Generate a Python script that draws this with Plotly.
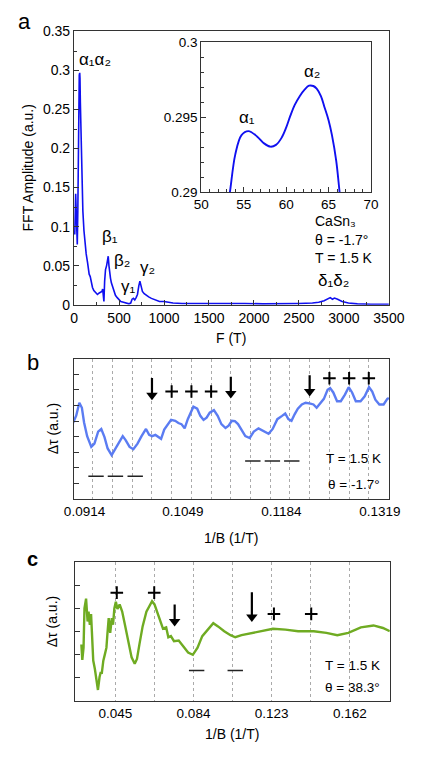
import plotly.graph_objects as go

# ---------------- Panel a: FFT spectrum ----------------
fft_F = [8, 12, 18, 24, 30, 36, 42, 48, 54, 58, 63, 66, 70, 76, 82, 90, 98, 110, 122, 135,
         150, 160, 168, 180, 190, 205, 220, 240, 260, 280, 300, 310, 318, 325, 332, 340, 350,
         362, 372, 380, 388, 395, 405, 415, 425, 440, 460, 480, 500, 520, 550, 580, 610, 630,
         645, 660, 675, 690, 705, 720, 732, 745, 760, 780, 800, 830, 860, 900, 950, 1000, 1050,
         1100, 1200, 1300, 1500, 1700, 1900, 2100, 2300, 2500, 2650, 2720, 2780, 2820, 2848,
         2872, 2895, 2930, 2980, 3050, 3150, 3300, 3500]
fft_amp = [0.09, 0.12, 0.142, 0.12, 0.09, 0.077, 0.12, 0.22, 0.285, 0.294, 0.297, 0.29, 0.26,
           0.22, 0.18, 0.145, 0.12, 0.095, 0.079, 0.065, 0.054, 0.045, 0.039, 0.036, 0.03,
           0.022, 0.018, 0.015, 0.013, 0.015, 0.016, 0.017, 0.02, 0.006, 0.004, 0.03, 0.045,
           0.05, 0.055, 0.062, 0.05, 0.038, 0.034, 0.028, 0.025, 0.018, 0.012, 0.009, 0.006,
           0.004, 0.003, 0.002, 0.001, 0.002, 0.007, 0.008, 0.006, 0.009, 0.013, 0.024, 0.03,
           0.024, 0.017, 0.014, 0.012, 0.01, 0.008, 0.006, 0.004, 0.004, 0.003, 0.002, 0.0015,
           0.0015, 0.002, 0.0015, 0.0015, 0.001, 0.001, 0.0015, 0.002, 0.003, 0.005, 0.008,
           0.009, 0.007, 0.0085, 0.007, 0.004, 0.002, 0.001, 0.0005, 0.0005]

inset_F = [53.2, 53.37, 54.0, 54.74, 55.55, 56.6, 57.4, 58.15, 58.8, 59.44, 60.0, 60.5, 61.0,
           61.6, 62.2, 62.7, 63.2, 63.6, 64.1, 64.5, 65.0, 65.4, 65.9, 66.3, 66.5]
inset_amp = [0.2895, 0.29, 0.2925, 0.2938, 0.29407, 0.2937, 0.29325, 0.29303, 0.29315, 0.2936,
             0.2943, 0.2951, 0.2958, 0.2964, 0.29685, 0.2971, 0.29708, 0.2969, 0.2964, 0.2957,
             0.2948, 0.2938, 0.2921, 0.29, 0.289]

a_xticks = [0, 500, 1000, 1500, 2000, 2500, 3000, 3500]
a_yticks = [0, 0.05, 0.1, 0.15, 0.2, 0.25, 0.3, 0.35]
inset_xticks = [50, 55, 60, 65, 70]
inset_yticks = [0.29, 0.295, 0.3]
inset_yticklabels = ["0.29", "0.295", "0.3"]

# ---------------- Panel b ----------------
b_invB = [0.08982, 0.09026, 0.09069, 0.09104, 0.09134, 0.09176, 0.09233, 0.09276, 0.09327,
          0.09370, 0.09414, 0.09457, 0.09512, 0.09564, 0.09608, 0.09664, 0.09706, 0.09758,
          0.09810, 0.09867, 0.09922, 0.09983, 0.10026, 0.10068, 0.10112, 0.10155, 0.10190,
          0.10233, 0.10275, 0.10327, 0.10384, 0.10427, 0.10469, 0.10513, 0.10556, 0.10599,
          0.10633, 0.10685, 0.10728, 0.10772, 0.10814, 0.10857, 0.10914, 0.10966, 0.11017,
          0.11073, 0.11116, 0.11160, 0.11202, 0.11245, 0.11289, 0.11345, 0.11405, 0.11461,
          0.11526, 0.11590, 0.11664, 0.11720, 0.11784, 0.11849, 0.11892, 0.11935, 0.11978,
          0.12021, 0.12065, 0.12120, 0.12172, 0.12237, 0.12279, 0.12323, 0.12366, 0.12422,
          0.12473, 0.12508, 0.12551, 0.12603, 0.12654, 0.12711, 0.12762, 0.12809, 0.12860,
          0.12925, 0.12982, 0.13041, 0.13085, 0.13128, 0.13183, 0.13241, 0.13292, 0.13313]
b_tau = [4.88, 5.35, 6.18, 5.86, 4.92, 4.04, 3.35, 3.56, 4.33, 4.50, 3.98, 3.25, 2.82, 3.25,
         3.67, 4.04, 3.77, 3.35, 3.20, 3.56, 4.04, 4.50, 4.12, 4.04, 4.12, 3.98, 3.87, 4.46,
         4.75, 5.08, 5.02, 4.88, 4.81, 4.54, 5.13, 5.65, 5.93, 5.80, 5.34, 5.08, 5.23, 5.55,
         5.71, 5.34, 4.81, 4.56, 4.71, 5.02, 5.00, 4.81, 4.50, 4.04, 3.92, 4.33, 4.54, 4.39,
         4.19, 4.50, 5.13, 5.34, 5.49, 5.13, 5.02, 5.44, 5.80, 6.07, 6.18, 6.13, 6.07, 5.86,
         6.13, 6.43, 7.01, 7.12, 6.84, 6.28, 6.28, 6.70, 7.18, 6.84, 6.28, 6.28, 6.59, 7.18,
         6.90, 6.38, 6.07, 6.07, 6.43, 6.49]
b_ticks = [0.0914, 0.1049, 0.1184, 0.1319]
b_ticklabels = ["0.0914", "0.1049", "0.1184", "0.1319"]
b_grid = [0.09254, 0.09524, 0.09795, 0.10065, 0.10335, 0.10606, 0.10876, 0.11146, 0.11417,
          0.11687, 0.11957, 0.12227, 0.12498, 0.12768, 0.13038]
b_arrow_x = [0.10065, 0.11146, 0.12227]
b_arrow_tail = [7.77, 7.85, 7.95]
b_arrow_head = [6.66, 6.77, 6.90]
b_plus_x = [0.10335, 0.10606, 0.10876, 0.12498, 0.12768, 0.13038]
b_plus_y = [6.9, 6.9, 6.9, 7.75, 7.75, 7.75]
b_minus_x = [0.09298, 0.09564, 0.09835, 0.11448, 0.11716, 0.11982]
b_minus_y = [1.47, 1.47, 1.47, 2.45, 2.45, 2.45]

# ---------------- Panel c ----------------
c_invB = [0.02808, 0.02855, 0.02917, 0.02963, 0.03043, 0.03119, 0.03166, 0.03231, 0.03292,
          0.03353, 0.03400, 0.03480, 0.03560, 0.03635, 0.03715, 0.03776, 0.03823, 0.03903,
          0.03983, 0.04058, 0.04105, 0.04171, 0.04246, 0.04326, 0.04387, 0.04453, 0.04528,
          0.04608, 0.04716, 0.04843, 0.04998, 0.05158, 0.05313, 0.05468, 0.05581, 0.05703,
          0.05863, 0.06051, 0.06206, 0.06333, 0.06455, 0.06596, 0.06723, 0.06878, 0.07037,
          0.07145, 0.07272, 0.07427, 0.07662, 0.07897, 0.08132, 0.08367, 0.08602, 0.08837,
          0.09152, 0.09387, 0.09622, 0.09932, 0.10247, 0.10482, 0.10796, 0.11576, 0.12361,
          0.12986, 0.13616, 0.14396, 0.15025, 0.15570, 0.16120, 0.16745, 0.17375, 0.17845,
          0.18188]
c_tau = [2.44, 1.77, 2.30, 4.00, 4.42, 3.43, 3.86, 3.29, 3.75, 2.87, 1.74, 1.39, 0.96, 0.47,
         1.03, 1.25, 1.17, 1.74, 2.02, 2.30, 2.87, 3.58, 2.94, 3.58, 3.29, 4.00, 4.28, 3.97,
         4.17, 3.86, 3.22, 2.58, 1.88, 1.60, 1.81, 2.44, 3.22, 3.86, 4.14, 4.31, 4.17, 3.79,
         3.50, 3.12, 3.18, 2.75, 2.80, 2.58, 2.61, 2.37, 2.09, 1.99, 2.30, 2.80, 3.15, 3.36,
         3.22, 3.01, 2.84, 2.75, 2.84, 2.97, 3.12, 3.08, 3.01, 3.01, 2.94, 2.84, 2.94, 3.18,
         3.26, 3.15, 3.01]
c_ticks = [0.045, 0.084, 0.123, 0.162]
c_ticklabels = ["0.045", "0.084", "0.123", "0.162"]
c_grid = [0.045, 0.0645, 0.084, 0.1035, 0.123, 0.1425, 0.162]
c_arrow_x = [0.0746, 0.1131]
c_arrow_tail = [4.17, 4.70]
c_arrow_head = [3.43, 3.63]
c_plus_x = [0.04575, 0.06441, 0.1241, 0.1427]
c_plus_y = [4.68, 4.68, 3.76, 3.76]
c_minus_x = [0.08556, 0.10482]
c_minus_y = [1.31, 1.31]

FONT = "Liberation Sans, Arial, sans-serif"
AXC = "#333333"

fig = go.Figure()
fig.add_trace(go.Scatter(x=fft_F, y=fft_amp, mode="lines", line=dict(color="#1010f0", width=1.6),
                         xaxis="x", yaxis="y", showlegend=False))
fig.add_trace(go.Scatter(x=inset_F, y=inset_amp, mode="lines", line=dict(color="#1010f0", width=1.9, shape="spline"),
                         xaxis="x2", yaxis="y2", showlegend=False))


def add_marks(xa, ya, px, py, mx, my, ax_x, a_tail, a_head):
    fig.add_trace(go.Scatter(x=px, y=py, mode="markers",
                             marker=dict(symbol="cross-thin", size=9, line=dict(color="black", width=2)),
                             xaxis=xa, yaxis=ya, showlegend=False))
    fig.add_trace(go.Scatter(x=mx, y=my, mode="markers",
                             marker=dict(symbol="line-ew", size=11, line=dict(color="#222", width=1.5)),
                             xaxis=xa, yaxis=ya, showlegend=False))
    for xv, t, h in zip(ax_x, a_tail, a_head):
        fig.add_trace(go.Scatter(x=[xv, xv], y=[t, h], mode="lines", line=dict(color="black", width=2.2),
                                 xaxis=xa, yaxis=ya, showlegend=False))
    fig.add_trace(go.Scatter(x=ax_x, y=a_head, mode="markers",
                             marker=dict(symbol="triangle-down", size=10, color="black", line=dict(width=0)),
                             xaxis=xa, yaxis=ya, showlegend=False))


fig.add_trace(go.Scatter(x=b_invB, y=b_tau, mode="lines", line=dict(color="#5b7cf2", width=2.4),
                         xaxis="x3", yaxis="y3", showlegend=False))
add_marks("x3", "y3", b_plus_x, b_plus_y, b_minus_x, b_minus_y, b_arrow_x, b_arrow_tail, b_arrow_head)
fig.add_trace(go.Scatter(x=c_invB, y=c_tau, mode="lines", line=dict(color="#6fab22", width=2.4),
                         xaxis="x4", yaxis="y4", showlegend=False))
add_marks("x4", "y4", c_plus_x, c_plus_y, c_minus_x, c_minus_y, c_arrow_x, c_arrow_tail, c_arrow_head)

W, H = 436, 762
def dx(a, b):
    return [a / W, b / W]
def dy(top, bot):
    return [1 - bot / H, 1 - top / H]

axis_common = dict(showline=True, linecolor=AXC, linewidth=1.2, mirror=True, zeroline=False,
                   tickfont=dict(family=FONT, size=14, color="black"))

annotations = []
annotations += [
    dict(text="a", x=16 / W, y=1 - 14 / H, xref="paper", yref="paper", showarrow=False,
         xanchor="center", yanchor="middle", font=dict(family=FONT, size=22, color="black")),
    dict(text="b", x=25 / W, y=1 - 362 / H, xref="paper", yref="paper", showarrow=False,
         xanchor="center", yanchor="middle", font=dict(family=FONT, size=22, color="black")),
    dict(text="<b>c</b>", x=25 / W, y=1 - 563 / H, xref="paper", yref="paper", showarrow=False,
         xanchor="center", yanchor="middle", font=dict(family=FONT, size=20, color="black")),
]
annotations += [
    dict(text="FFT Amplitude (a.u.)", x=20 / W, y=1 - 163 / H, xref="paper", yref="paper",
         xanchor="center", yanchor="middle",
         showarrow=False, textangle=-90, font=dict(family=FONT, size=14, color="black")),
    dict(text="F (T)", x=236 / W, y=1 - 337 / H, xref="paper", yref="paper", showarrow=False,
         xanchor="center", yanchor="middle", font=dict(family=FONT, size=14, color="black")),
    dict(text="Δτ (a.u.)", x=47 / W, y=1 - 430 / H, xref="paper", yref="paper", showarrow=False,
         xanchor="center", yanchor="middle", textangle=-90, font=dict(family=FONT, size=14, color="black")),
    dict(text="1/B (1/T)", x=236 / W, y=1 - 541 / H, xref="paper", yref="paper", showarrow=False,
         xanchor="center", yanchor="middle", font=dict(family=FONT, size=14, color="black")),
    dict(text="Δτ (a.u.)", x=45 / W, y=1 - 627 / H, xref="paper", yref="paper", showarrow=False,
         xanchor="center", yanchor="middle", textangle=-90, font=dict(family=FONT, size=14, color="black")),
    dict(text="1/B (1/T)", x=237 / W, y=1 - 742 / H, xref="paper", yref="paper", showarrow=False,
         xanchor="center", yanchor="middle", font=dict(family=FONT, size=14, color="black")),
]
gf = dict(family=FONT, size=17, color="black")
annotations += [
    dict(text="α₁α₂", x=31, y=0.3137, xref="x", yref="y", showarrow=False, xanchor="left", font=gf),
    dict(text="β₁", x=398, y=0.0878, xref="x", yref="y", showarrow=False, font=gf),
    dict(text="β₂", x=529, y=0.0565, xref="x", yref="y", showarrow=False, font=gf),
    dict(text="γ₁", x=608, y=0.0226, xref="x", yref="y", showarrow=False, font=gf),
    dict(text="γ₂", x=814, y=0.0477, xref="x", yref="y", showarrow=False, font=gf),
    dict(text="δ₁δ₂", x=2883, y=0.0314, xref="x", yref="y", showarrow=False, font=gf),
    dict(text="CaSn₃", x=2652, y=0.1066, xref="x", yref="y", showarrow=False, xanchor="left",
         font=dict(family=FONT, size=14, color="black")),
    dict(text="θ = -1.7°", x=2652, y=0.0828, xref="x", yref="y", showarrow=False, xanchor="left",
         font=dict(family=FONT, size=14, color="black")),
    dict(text="T = 1.5 K", x=2652, y=0.0602, xref="x", yref="y", showarrow=False, xanchor="left",
         font=dict(family=FONT, size=14, color="black")),
    dict(text="α₁", x=55.44, y=0.29497, xref="x2", yref="y2", showarrow=False, font=gf),
    dict(text="α₂", x=63.08, y=0.29804, xref="x2", yref="y2", showarrow=False, font=gf),
]
tf = dict(family=FONT, size=13.5, color="black")
annotations += [
    dict(text="T = 1.5 K", x=397 / W, y=1 - 460 / H, xref="paper", yref="paper", showarrow=False,
         xanchor="right", yanchor="middle", font=tf),
    dict(text="θ = -1.7°", x=396 / W, y=1 - 487 / H, xref="paper", yref="paper", showarrow=False,
         xanchor="right", yanchor="middle", font=tf),
    dict(text="T = 1.5 K", x=396 / W, y=1 - 672 / H, xref="paper", yref="paper", showarrow=False,
         xanchor="right", yanchor="middle", font=tf),
    dict(text="θ = 38.3°", x=396 / W, y=1 - 694 / H, xref="paper", yref="paper", showarrow=False,
         xanchor="right", yanchor="middle", font=tf),
]

fig.update_layout(
    width=W, height=H, margin=dict(l=0, r=0, t=0, b=0),
    paper_bgcolor="white", plot_bgcolor="white",
    font=dict(family=FONT, color="black"),
    xaxis=dict(domain=dx(69, 403), range=[0, 3500], anchor="y", tickvals=a_xticks,
               ticks="inside", ticklen=5, tickcolor=AXC, showgrid=False,
               minor=dict(dtick=250, ticks="inside", ticklen=3, tickcolor=AXC), **axis_common),
    yaxis=dict(domain=dy(24, 303), range=[0, 0.35], anchor="x", tickvals=a_yticks,
               ticks="inside", ticklen=5, tickcolor=AXC, showgrid=False,
               minor=dict(dtick=0.025, ticks="inside", ticklen=3, tickcolor=AXC), **axis_common),
    xaxis2=dict(domain=dx(204, 384), range=[50, 70], anchor="y2", tickvals=inset_xticks,
                ticks="inside", ticklen=5, tickcolor=AXC, showgrid=False,
                minor=dict(dtick=1, ticks="inside", ticklen=3, tickcolor=AXC), **axis_common),
    yaxis2=dict(domain=dy(35, 188), range=[0.29, 0.3], anchor="x2", tickvals=inset_yticks,
                ticktext=inset_yticklabels,
                ticks="inside", ticklen=5, tickcolor=AXC, showgrid=False,
                minor=dict(dtick=0.001, ticks="inside", ticklen=3, tickcolor=AXC), **axis_common),
    xaxis3=dict(domain=dx(68.5, 403.5), range=[0.0899, 0.1332], anchor="y3", tickvals=b_ticks,
                ticktext=b_ticklabels, ticks="", showgrid=False,
                minor=dict(tickmode="array", tickvals=b_grid, showgrid=True, gridcolor="#aaaaaa",
                           griddash="dot", gridwidth=1),
                **axis_common),
    yaxis3=dict(domain=dy(358.3, 501.7), range=[0, 9], anchor="x3", tickvals=[1, 2, 3, 4, 5, 6, 7, 8],
                ticks="inside", ticklen=5, tickcolor=AXC, showticklabels=False, showgrid=False,
                **axis_common),
    xaxis4=dict(domain=dx(70, 404), range=[0.0249, 0.1819], anchor="y4", tickvals=c_ticks,
                ticktext=c_ticklabels, ticks="", showgrid=False,
                minor=dict(tickmode="array", tickvals=c_grid, showgrid=True, gridcolor="#aaaaaa",
                           griddash="dot", gridwidth=1),
                **axis_common),
    yaxis4=dict(domain=dy(566, 707.7), range=[0, 6], anchor="x4", tickvals=[1, 2, 3, 4, 5],
                ticks="inside", ticklen=5, tickcolor=AXC, showticklabels=False, showgrid=False,
                **axis_common),
    annotations=annotations,
)
fig.layout.xaxis3.tickfont.size = 13.5
fig.layout.xaxis4.tickfont.size = 13.5
fig.layout.xaxis2.tickfont.size = 13.5
fig.layout.yaxis2.tickfont.size = 13.5

fig.write_html("out.html", config={"displayModeBar": False},
               post_script="document.body.style.margin='0';document.body.style.overflow='hidden';")
